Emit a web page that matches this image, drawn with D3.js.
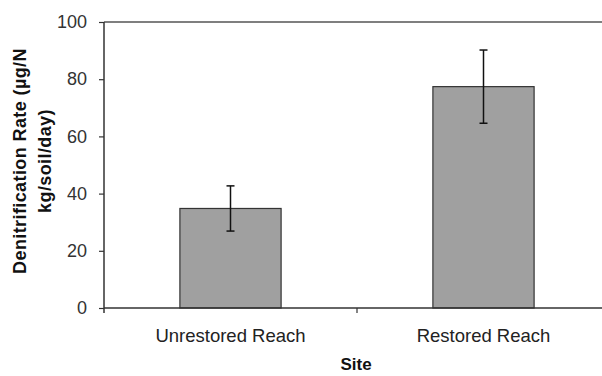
<!DOCTYPE html>
<html>
<head>
<meta charset="utf-8">
<script src="https://d3js.org/d3.v7.min.js"></script>
<style>
body { margin: 0; background: #fff; }
text { font-family: "Liberation Sans", Arial, sans-serif; }
</style>
</head>
<body>
<script>
var width = 602;
var height = 376;

// data
var sites = ["Unrestored Reach", "Restored Reach"];
var rates = [34.8, 77.4];
var errHigh = [42.7, 90.2];
var errLow = [26.9, 64.6];
var yTicks = [0, 20, 40, 60, 80, 100];

var svg = d3.select("body").append("svg")
    .attr("width", width)
    .attr("height", height);

var x = d3.scaleBand()
    .domain(sites)
    .range([104, 610])
    .paddingInner(0.6)
    .paddingOuter(0.3);

var y = d3.scaleLinear()
    .domain([0, 100])
    .range([308, 22]);

// top frame line
svg.append("line")
    .attr("x1", 104).attr("x2", width)
    .attr("y1", y(100)).attr("y2", y(100))
    .attr("stroke", "#555").attr("stroke-width", 1.5);

// bars
svg.append("g").selectAll("rect")
    .data(sites)
    .enter()
    .append("rect")
    .attr("x", function(d) { return x(d); })
    .attr("y", function(d, i) { return y(rates[i]); })
    .attr("width", x.bandwidth())
    .attr("height", function(d, i) { return y(0) - y(rates[i]); })
    .attr("fill", "#a0a0a0")
    .attr("stroke", "#333")
    .attr("stroke-width", 1.2);

// error bars
var eb = svg.append("g").attr("stroke", "#111").attr("stroke-width", 1.5);
sites.forEach(function(d, i) {
    var cx = x(d) + x.bandwidth() / 2;
    eb.append("line").attr("x1", cx).attr("x2", cx).attr("y1", y(errHigh[i])).attr("y2", y(errLow[i]));
    eb.append("line").attr("x1", cx - 4).attr("x2", cx + 4).attr("y1", y(errHigh[i])).attr("y2", y(errHigh[i]));
    eb.append("line").attr("x1", cx - 4).attr("x2", cx + 4).attr("y1", y(errLow[i])).attr("y2", y(errLow[i]));
});

// y axis
var yAxis = svg.append("g")
    .attr("transform", "translate(104,0)")
    .call(d3.axisLeft(y).tickValues(yTicks).tickSize(5).tickPadding(12));
yAxis.select(".domain").remove();
yAxis.selectAll("line").attr("stroke", "#333").attr("stroke-width", 1.2);
yAxis.selectAll("text")
    .attr("font-family", "Liberation Sans, Arial, sans-serif")
    .attr("font-size", 18)
    .attr("fill", "#333");

svg.append("line")
    .attr("x1", 104).attr("x2", 104)
    .attr("y1", y(100)).attr("y2", y(0) + 5)
    .attr("stroke", "#333").attr("stroke-width", 1.5);

// x axis
svg.append("line")
    .attr("x1", 104).attr("x2", width)
    .attr("y1", y(0)).attr("y2", y(0))
    .attr("stroke", "#333").attr("stroke-width", 1.5);

svg.append("g").selectAll("line")
    .data(sites)
    .enter()
    .append("line")
    .attr("x1", function(d) { return x(d) + x.bandwidth() + x.step() * 0.3; })
    .attr("x2", function(d) { return x(d) + x.bandwidth() + x.step() * 0.3; })
    .attr("y1", y(0)).attr("y2", y(0) + 5)
    .attr("stroke", "#333").attr("stroke-width", 1.2);

svg.append("g").selectAll("text")
    .data(sites)
    .enter()
    .append("text")
    .attr("x", function(d) { return x(d) + x.bandwidth() / 2; })
    .attr("y", 342)
    .attr("text-anchor", "middle")
    .attr("font-size", 18.5)
    .attr("fill", "#222")
    .text(function(d) { return d; });

// axis titles
svg.append("text")
    .attr("x", 356).attr("y", 370)
    .attr("text-anchor", "middle")
    .attr("font-size", 17)
    .attr("font-weight", "bold")
    .attr("fill", "#111")
    .text("Site");

var yt = svg.append("text")
    .attr("transform", "translate(0,161) rotate(-90)")
    .attr("text-anchor", "middle")
    .attr("font-size", 18)
    .attr("font-weight", "bold")
    .attr("letter-spacing", 0.4)
    .attr("fill", "#111");
yt.append("tspan").attr("x", 0).attr("y", 26).text("Denitrification Rate (µg/N");
yt.append("tspan").attr("x", 0).attr("y", 51).text("kg/soil/day)");
</script>
</body>
</html>
